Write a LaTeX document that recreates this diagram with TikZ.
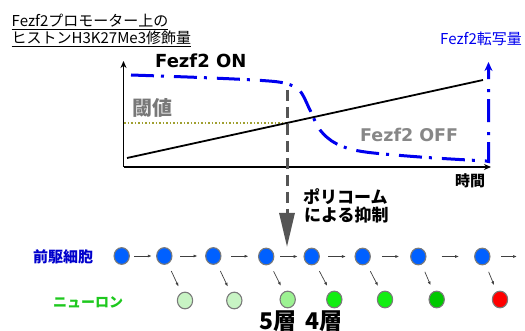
\documentclass[tikz,border=0pt]{standalone}
\usepackage{fontspec}
\setmainfont{Noto Sans CJK JP}
\newfontfamily\dvs{DejaVu Sans}
\usetikzlibrary{arrows.meta,calc,shapes.geometric}
\definecolor{curveblue}{HTML}{0000EE}
\definecolor{cellblue}{HTML}{0060FF}
\definecolor{cellrim}{HTML}{7A7A7A}
\definecolor{paleg}{HTML}{C8F4C4}
\definecolor{lightg}{HTML}{9CF292}
\definecolor{brightg}{HTML}{12EE12}
\definecolor{midg}{HTML}{00C800}
\definecolor{thr}{HTML}{A0A030}
\definecolor{darkgr}{HTML}{555555}
\definecolor{labgreen}{HTML}{1EC81E}
\definecolor{labblue}{HTML}{0000CC}
\begin{document}
\begin{tikzpicture}[x=1pt,y=-1pt,
  lbl/.style={inner sep=0pt,anchor=base west},
  cell/.style={ellipse,minimum width=15.3pt,minimum height=16.7pt,inner sep=0pt,draw=cellrim,line width=1.1pt},
  prog/.style={cell,fill=cellblue},
  neu/.style={cell,fill=#1},
  smallarr/.style={draw=black!75,line width=0.7pt,-{Latex[length=4pt,width=3pt]}},
  midarr/.style={smallarr,to path={($(\tikztostart)!0.5!(\tikztotarget)+(-8.75,0)$) -- ($(\tikztostart)!0.5!(\tikztotarget)+(8.75,0)$)}},
  diagarr/.style={smallarr,shorten <=7.8pt,shorten >=6.5pt},
  axis/.style={line width=1.8pt,-{Stealth[length=7pt,width=6pt]}}
]
\useasboundingbox (0,0) rectangle (525,331);
% titles
\node[lbl,font=\fontsize{15}{17}\selectfont] (t1) at (11.5,27) {\underline{Fezf2プロモーター上の}};
\node[lbl,font=\fontsize{15}{17}\selectfont] (t2) at (11.5,43.5) {\underline{ヒストンH3K27Me3修飾量}};
\node[lbl,font=\fontsize{15}{17}\selectfont,text=curveblue] (t3) at (440,45) {Fezf2転写量};
% axes
\coordinate (O) at (123.5,167);
\coordinate (Ytop) at (123.5,61);
\coordinate (Xend) at (491,167);
\draw[axis] (O) -- (Ytop);
\draw[axis] (O) -- (Xend);
% threshold
\coordinate (th1) at (124,123);
\coordinate (th2) at (287,123);
\draw[thr,line width=1.6pt,dash pattern=on 1.5pt off 2pt] (th1) -- (th2);
% rising black line
\coordinate (b1) at (127,158);
\coordinate (b2) at (483,80);
\draw[line width=1.8pt] (b1) -- (b2);
% blue dash-dot curve
\draw[curveblue,line width=3pt,dash pattern=on 23pt off 7pt on 3pt off 10pt,-{Stealth[length=9pt,width=8pt]}]
  plot[smooth,tension=0.55] coordinates {(131,75) (200,77.5) (262,80.5) (286,83.5) (300,91) (310,110) (320,130) (336,143.5) (362,151.5) (420,157) (486,161)}
  -- (488.5,161.5) -- (488.5,62);
% gray dashed arrow
\coordinate (g1) at (287,90);
\coordinate (g2) at (287,247);
\draw[darkgr,line width=3pt,dash pattern=on 11pt off 6pt,-{Triangle[length=34pt,width=15pt]}] (g1) -- (g2);
% chart labels
\node[lbl,font=\dvs\bfseries\fontsize{18}{20}\selectfont] (on) at (155,67.5) {Fezf2 ON};
\node[lbl,font=\dvs\bfseries\fontsize{17.5}{20}\selectfont,text=black!47] (off) at (360,141.5) {Fezf2 OFF};
\node[lbl,font=\bfseries\fontsize{20}{22}\selectfont,text=black!53] (thl) at (132.5,115.5) {閾値};
\node[lbl,font=\bfseries\fontsize{15}{17}\selectfont] (time) at (455,187) {時間};
\node[lbl,font=\bfseries\fontsize{17}{19}\selectfont] (pc1) at (303,204) {ポリコーム};
\node[lbl,font=\bfseries\fontsize{17}{19}\selectfont] (pc2) at (304,222) {による抑制};
% row labels
\node[lbl,font=\bfseries\fontsize{15}{17}\selectfont,text=labblue] (rp) at (33,262) {前駆細胞};
\node[lbl,font=\bfseries\fontsize{14}{16}\selectfont,text=labgreen] (rn) at (53,307) {ニューロン};
\node[lbl,font=\bfseries\fontsize{23}{25}\selectfont] (layers) at (259,329.5) {5層\hspace{9pt}4層};
% progenitors
\node[prog] (p1) at (121.7,256) {};
\node[prog] (p2) at (164.3,256) {};
\node[prog] (p3) at (213.3,256) {};
\node[prog] (p4) at (266.2,256.5) {};
\node[prog] (p5) at (311.7,256.5) {};
\node[prog] (p6) at (362.7,256.5) {};
\node[prog] (p7) at (418.3,256.5) {};
\node[prog] (p8) at (482.3,256.5) {};
\coordinate (pend) at (517,256.5);
% neurons
\node[neu=paleg] (n1) at (185,300.5) {};
\node[neu=paleg] (n2) at (234.3,300.5) {};
\node[neu=lightg] (n3) at (287.7,299.5) {};
\node[neu=brightg] (n4) at (334.3,299.5) {};
\node[neu=brightg] (n5) at (385,299.5) {};
\node[neu=midg] (n6) at (436.7,299.5) {};
\node[neu=red] (n7) at (500,299.5) {};
% arrows
\draw[midarr] (p1) to (p2);
\draw[midarr] (p2) to (p3);
\draw[midarr] (p3) to (p4);
\draw[midarr] (p4) to (p5);
\draw[midarr] (p5) to (p6);
\draw[midarr] (p6) to (p7);
\draw[midarr] (p7) to (p8);
\draw[smallarr,shorten <=10.5pt] (p8) -- (pend);
\draw[diagarr] (p2) -- (n1);
\draw[diagarr] (p3) -- (n2);
\draw[diagarr] (p4) -- (n3);
\draw[diagarr] (p5) -- (n4);
\draw[diagarr] (p6) -- (n5);
\draw[diagarr] (p7) -- (n6);
\draw[diagarr] (p8) -- (n7);
\end{tikzpicture}
\end{document}
